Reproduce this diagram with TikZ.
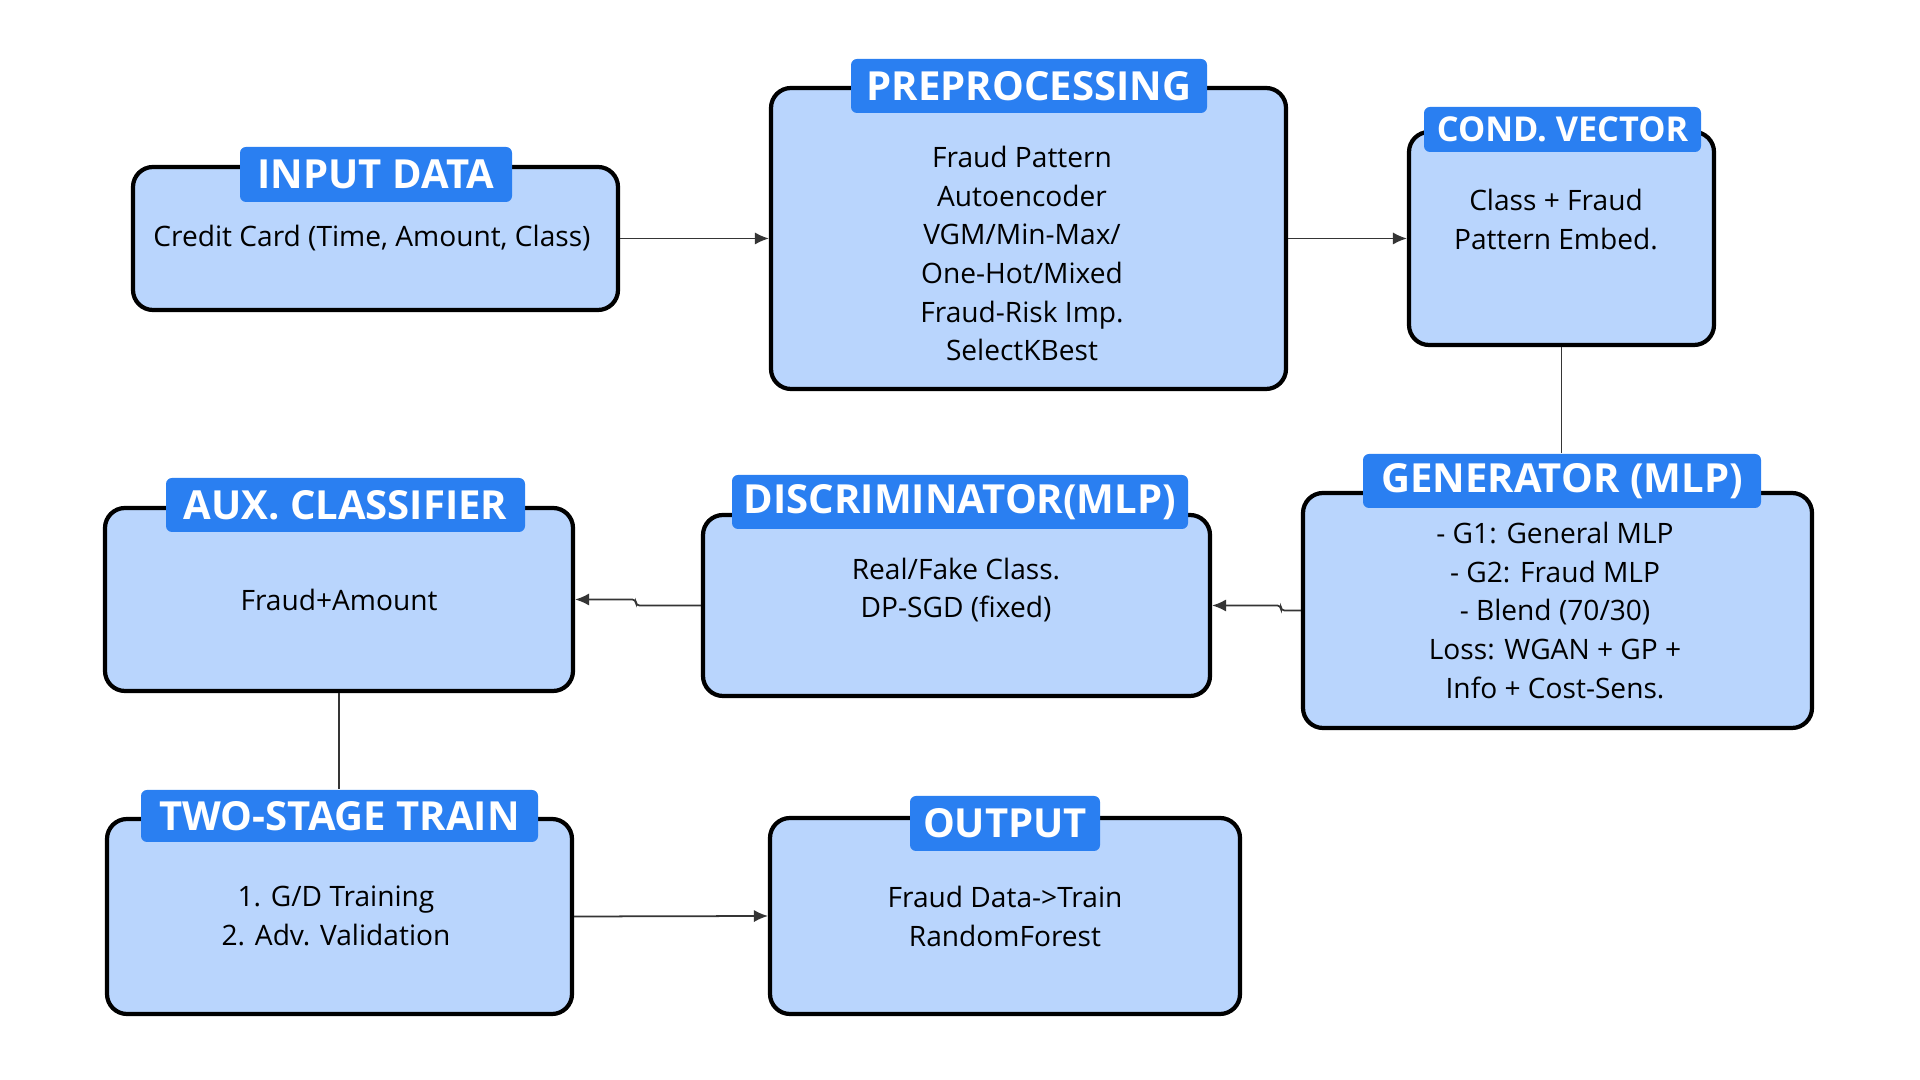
\documentclass[tikz,border=0pt]{standalone}
\usepackage{fontspec}
\setmainfont{Open Sans}
\usetikzlibrary{arrows.meta,positioning,calc}
\definecolor{Ink}{HTML}{111111}
\definecolor{BoxFill}{HTML}{B9D5FD}
\definecolor{TabBlue}{HTML}{2A7FF1}
\tikzset{
  box/.style={draw=black,line width=1.2pt,fill=BoxFill,rounded corners=0.2cm,inner sep=0pt},
  tab/.style={fill=TabBlue,rounded corners=0.06cm,inner sep=0pt,text=white,font=\bfseries\fontsize{11.4}{13}\selectfont},
  smalltab/.style={tab,font=\bfseries\fontsize{9.75}{11}\selectfont},
  body/.style={align=center,inner sep=0pt,font=\fontsize{8}{11}\selectfont,text=black},
  link/.style={-{Latex[length=4pt,width=3.5pt]},Ink!85,line width=0.5pt},
  wire/.style={Ink!85,line width=0.5pt}
}
\begin{document}
\begin{tikzpicture}[x=1cm,y=1cm]
\useasboundingbox (0,0) rectangle (19.2,10.8);
% boxes
\node[box,minimum width=4.85cm,minimum height=1.43cm] (input) at (3.755,8.415) {};
\node[box,minimum width=5.15cm,minimum height=3.01cm] (preproc) at (10.285,8.415) {};
\node[box,minimum width=3.05cm,minimum height=2.13cm] (cond) at (15.615,8.415) {};
\node[box,minimum width=5.09cm,minimum height=2.35cm] (gen) at (15.575,4.695) {};
\node[box,minimum width=5.07cm,minimum height=1.81cm] (disc) at (9.565,4.745) {};
\node[box,minimum width=4.68cm,minimum height=1.83cm] (aux) at (3.39,4.805) {};
\node[box,minimum width=4.65cm,minimum height=1.95cm] (two) at (3.395,1.635) {};
\node[box,minimum width=4.70cm,minimum height=1.96cm] (out) at (10.05,1.64) {};
% title tabs
\node[tab,minimum width=2.72cm,minimum height=0.55cm] (inputtab) at (3.76,9.055) {INPUT DATA};
\node[tab,minimum width=3.56cm,minimum height=0.54cm] (preproctab) at (10.29,9.94) {PREPROCESSING};
\node[smalltab,minimum width=2.77cm,minimum height=0.45cm] (condtab) at (15.625,9.505) {COND. VECTOR};
\node[tab,minimum width=3.98cm,minimum height=0.54cm] (gentab) at (15.62,5.99) {GENERATOR (MLP)};
\node[tab,minimum width=4.56cm,minimum height=0.54cm] (disctab) at (9.60,5.78) {DISCRIMINATOR(MLP)};
\node[tab,minimum width=3.59cm,minimum height=0.54cm] (auxtab) at (3.455,5.75) {AUX. CLASSIFIER};
\node[tab,minimum width=3.97cm,minimum height=0.52cm] (twotab) at (3.395,2.64) {TWO-STAGE TRAIN};
\node[tab,minimum width=1.90cm,minimum height=0.55cm] (outtab) at (10.05,2.565) {OUTPUT};
% contents
\node[body] (inputtxt) at (3.72,8.42) {Credit Card (Time, Amount, Class)};
\node[body] (preproctxt) at (10.22,8.265) {Fraud Pattern\\Autoencoder\\VGM/Min-Max/\\One-Hot/Mixed\\Fraud-Risk Imp.\\SelectKBest};
\node[body] (condtxt) at (15.56,8.605) {Class + Fraud\\Pattern Embed.};
\node[body] (gentxt) at (15.55,4.695) {- G1: General MLP\\- G2: Fraud MLP\\- Blend (70/30)\\Loss: WGAN + GP +\\Info + Cost-Sens.};
\node[body] (disctxt) at (9.56,4.90) {Real/Fake Class.\\DP-SGD (fixed)};
\node[body] (auxtxt) at (3.39,4.80) {Fraud+Amount};
\node[body] (twotxt) at (3.36,1.64) {1. G/D Training\\2. Adv. Validation};
\node[body] (outtxt) at (10.05,1.635) {Fraud Data->Train\\RandomForest};
% connectors
\draw[link] (input.east) -- (preproc.west);
\draw[link] (preproc.east) -- (cond.west);
\draw[wire] (cond.south) -- (cond.south |- gentab.north);
\draw[link,rounded corners=1pt] (gen.west) -- ++(-0.2,0) |- (disc.east);
\draw[link,rounded corners=1pt] (disc.west) -- ++(-0.65,0) |- (aux.east);
\draw[wire] (aux.south) -- (aux.south |- twotab.north);
\draw[link] (two.east) -- (out.west);
\end{tikzpicture}
\end{document}
